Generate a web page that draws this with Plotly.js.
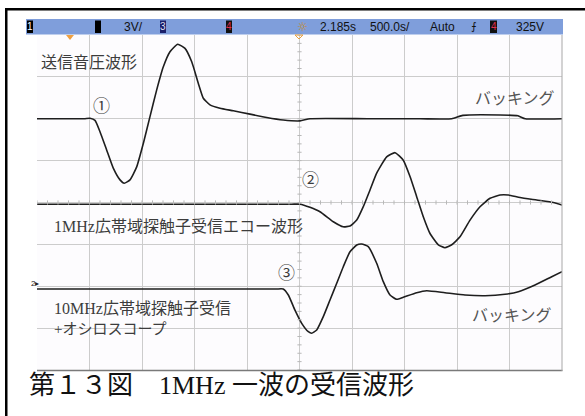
<!DOCTYPE html>
<html><head><meta charset="utf-8">
<script src="https://cdn.plot.ly/plotly-3.0.1.min.js"></script>
<style>html,body{margin:0;padding:0;background:#fff}</style>
</head><body><div id="chart" style="width:585px;height:416px"></div>
<script>
// Trace 1: 送信音圧波形 (x in divisions, y in divisions)
const t1x = [0,0.9,1.01,1.105,1.2,1.328,1.453,1.581,1.663,1.771,1.899,2.025,2.152,2.28,2.406,2.533,2.68,2.819,2.947,3.072,3.168,3.295,3.486,3.739,4.057,4.375,4.69,5.01,5.2,6.3,7.3,7.9,8.11,8.82,9.16,9.3,10];
const t1y = [6.0,6.0,6.01,5.96,5.69,5.25,4.82,4.54,4.46,4.54,4.85,5.41,6.05,6.69,7.24,7.60,7.78,7.68,7.36,6.85,6.49,6.33,6.25,6.19,6.11,6.03,5.97,5.95,6.0,6.0,6.0,6.0,6.08,6.09,6.07,6.0,6.0];
// Trace 2: 1MHz広帯域探触子受信エコー波形
const t2x = [0,4.85,5.01,5.2,5.39,5.644,5.834,5.962,6.09,6.215,6.343,6.47,6.66,6.82,6.977,7.105,7.232,7.358,7.486,7.644,7.77,7.9,8.057,8.248,8.438,8.629,8.819,8.977,9.2,9.518,9.834,10];
const t2y = [3.96,3.96,3.96,3.885,3.78,3.54,3.42,3.44,3.58,3.90,4.30,4.70,5.09,5.19,5.01,4.62,4.14,3.66,3.26,2.99,2.92,2.99,3.18,3.58,3.90,4.10,4.18,4.18,4.12,4.06,4.0,3.94];
// Trace 3: 10MHz広帯域探触子受信 +オシロスコープ
const t3x = [0,4.55,4.69,4.787,4.914,5.042,5.168,5.232,5.328,5.453,5.581,5.709,5.834,5.962,6.09,6.185,6.31,6.47,6.596,6.724,6.85,6.977,7.232,7.423,7.77,8.152,8.533,8.914,9.168,9.486,9.804,10];
const t3y = [1.934,1.934,1.934,1.79,1.43,1.115,0.915,0.876,0.955,1.273,1.672,2.07,2.467,2.825,2.985,3.009,2.945,2.548,2.109,1.791,1.688,1.736,1.846,1.894,1.846,1.791,1.774,1.808,1.87,2.03,2.228,2.348];

const labelsJP = ['送信音圧波形','1MHz広帯域探触子受信エコー波形','10MHz広帯域探触子受信','+オシロスコープ','バッキング','①','②','③'];
const captionText = '第１３図　1MHz 一波の受信波形';
const statusTexts = ['3V/','2.185s','500.0s/','Auto','325V'];

const W = 585, H = 416;
const px = x => x / W, py = y => 1 - y / H;

const lineStyle = {color:'#1e1e1e', width:1.6, shape:'spline', smoothing:0.45};
const data = [
  {x:t1x, y:t1y, mode:'lines', line:lineStyle, hoverinfo:'skip'},
  {x:t2x, y:t2y, mode:'lines', line:lineStyle, hoverinfo:'skip'},
  {x:t3x, y:t3y, mode:'lines', line:lineStyle, hoverinfo:'skip'}
];

const shapes = [];
// outer frame (top & left)
shapes.push({type:'rect', xref:'paper', yref:'paper', x0:px(5), x1:px(585), y0:py(8), y1:py(10.5), fillcolor:'#000', line:{width:0}, layer:'above'});
shapes.push({type:'rect', xref:'paper', yref:'paper', x0:px(5), x1:px(7.5), y0:py(8), y1:py(416), fillcolor:'#000', line:{width:0}, layer:'above'});
// status bar
shapes.push({type:'rect', xref:'paper', yref:'paper', x0:px(26), x1:px(563), y0:py(19), y1:py(34.5), fillcolor:'#7f9edb', line:{width:0}});
// channel boxes
const boxes = [[27,33,'#000'],[95,101,'#000'],[160,166,'#1b1f6a'],[226,232,'#111'],[490,497,'#111']];
boxes.forEach(b => shapes.push({type:'rect', xref:'paper', yref:'paper', x0:px(b[0]), x1:px(b[1]), y0:py(20.5), y1:py(33), fillcolor:b[2], line:{width:0}}));
// minor ticks on centre lines
for (let i = 0; i <= 50; i++) {
  const xv = i * 0.2;
  shapes.push({type:'line', xref:'x', yref:'y', x0:xv, x1:xv, y0:3.95, y1:4.05, line:{color:'#b8b8b8', width:1}});
}
for (let j = 0; j <= 40; j++) {
  const yv = j * 0.2;
  shapes.push({type:'line', xref:'x', yref:'y', x0:4.96, x1:5.04, y0:yv, y1:yv, line:{color:'#b8b8b8', width:1}});
}
// plot right & bottom edge
shapes.push({type:'line', xref:'paper', yref:'paper', x0:px(37), x1:px(562.5), y0:py(370.5), y1:py(370.5), line:{color:'#7a7a7a', width:1.5}});
shapes.push({type:'line', xref:'paper', yref:'paper', x0:px(562), x1:px(562), y0:py(35), y1:py(371), line:{color:'#a8a8a8', width:1}});
// orange markers
shapes.push({type:'path', xref:'paper', yref:'paper', path:`M ${px(66)} ${py(35)} L ${px(74)} ${py(35)} L ${px(70)} ${py(40)} Z`, fillcolor:'#f0a040', line:{width:0}});
shapes.push({type:'path', xref:'paper', yref:'paper', path:`M ${px(295)} ${py(35)} L ${px(303)} ${py(35)} L ${px(299)} ${py(39)} Z`, fillcolor:'rgba(0,0,0,0)', line:{color:'#e8a040', width:1}});

const jpFont = {family:'Liberation Serif, Noto Sans CJK JP, serif', size:16, color:'#3c3c3c'};
const ann = (text, x, y, opts={}) => Object.assign({text, xref:'paper', yref:'paper', x:px(x), y:py(y), showarrow:false, xanchor:'left', yanchor:'middle', font:jpFont}, opts);
const annotations = [
  ann(labelsJP[0], 39, 62),
  ann(labelsJP[5], 101, 107, {xanchor:'center', font:Object.assign({}, jpFont, {size:17})}),
  ann(labelsJP[4], 473, 99, {font:Object.assign({}, jpFont, {size:16, color:'#555'})}),
  ann(labelsJP[6], 310, 180, {xanchor:'center', font:Object.assign({}, jpFont, {size:17})}),
  ann(labelsJP[1], 52, 227),
  ann(labelsJP[7], 286, 273, {xanchor:'center', font:Object.assign({}, jpFont, {size:17})}),
  ann(labelsJP[2], 52, 308),
  ann(labelsJP[3], 52, 329, {font:Object.assign({}, jpFont, {size:15})}),
  ann(labelsJP[4], 470, 315, {font:Object.assign({}, jpFont, {size:16, color:'#555'})}),
  ann(captionText, 27, 385, {font:{family:'Liberation Serif, Noto Sans CJK JP, serif', size:26, color:'#111'}}),
  ann('2▸', 29, 283, {font:{family:'Liberation Sans, Arial', size:8, color:'#222'}})
];
// status bar texts
const sFont = {family:'Liberation Sans, Arial, sans-serif', size:12, color:'#111'};
const sPos = [122, 318, 368, 428, 514];
statusTexts.forEach((t, i) => annotations.push(ann(t, sPos[i], 27, {font:sFont})));
const boxDigits = [['1',30,'#fff'],['3',163,'#dde'],['4',229,'#e03050'],['4',493.5,'#e03050']];
boxDigits.forEach(d => annotations.push(ann(d[0], d[1], 27, {xanchor:'center', font:{family:'Liberation Sans, Arial', size:10, color:d[2]}})));
annotations.push(ann('☼', 302, 27, {xanchor:'center', font:{family:'DejaVu Sans', size:12, color:'#c88a20'}}));
annotations.push(ann('⨍', 474, 27, {xanchor:'center', font:{family:'DejaVu Sans', size:11, color:'#111'}}));

const layout = {
  width:W, height:H, margin:{l:0, r:0, t:0, b:0},
  paper_bgcolor:'#fff', plot_bgcolor:'#fdfcfe',
  showlegend:false, hovermode:false,
  xaxis:{domain:[px(37), px(562)], range:[0,10], dtick:1, tick0:0, showgrid:true, gridcolor:'#cccccc', gridwidth:1, zeroline:false, showticklabels:false, ticks:'', showline:false, fixedrange:true},
  yaxis:{domain:[py(370), py(35)], range:[0,8], dtick:1, tick0:0, showgrid:true, gridcolor:'#cccccc', gridwidth:1, zeroline:false, showticklabels:false, ticks:'', showline:false, fixedrange:true},
  shapes, annotations
};
Plotly.newPlot('chart', data, layout, {displayModeBar:false, staticPlot:true});
</script></body></html>
